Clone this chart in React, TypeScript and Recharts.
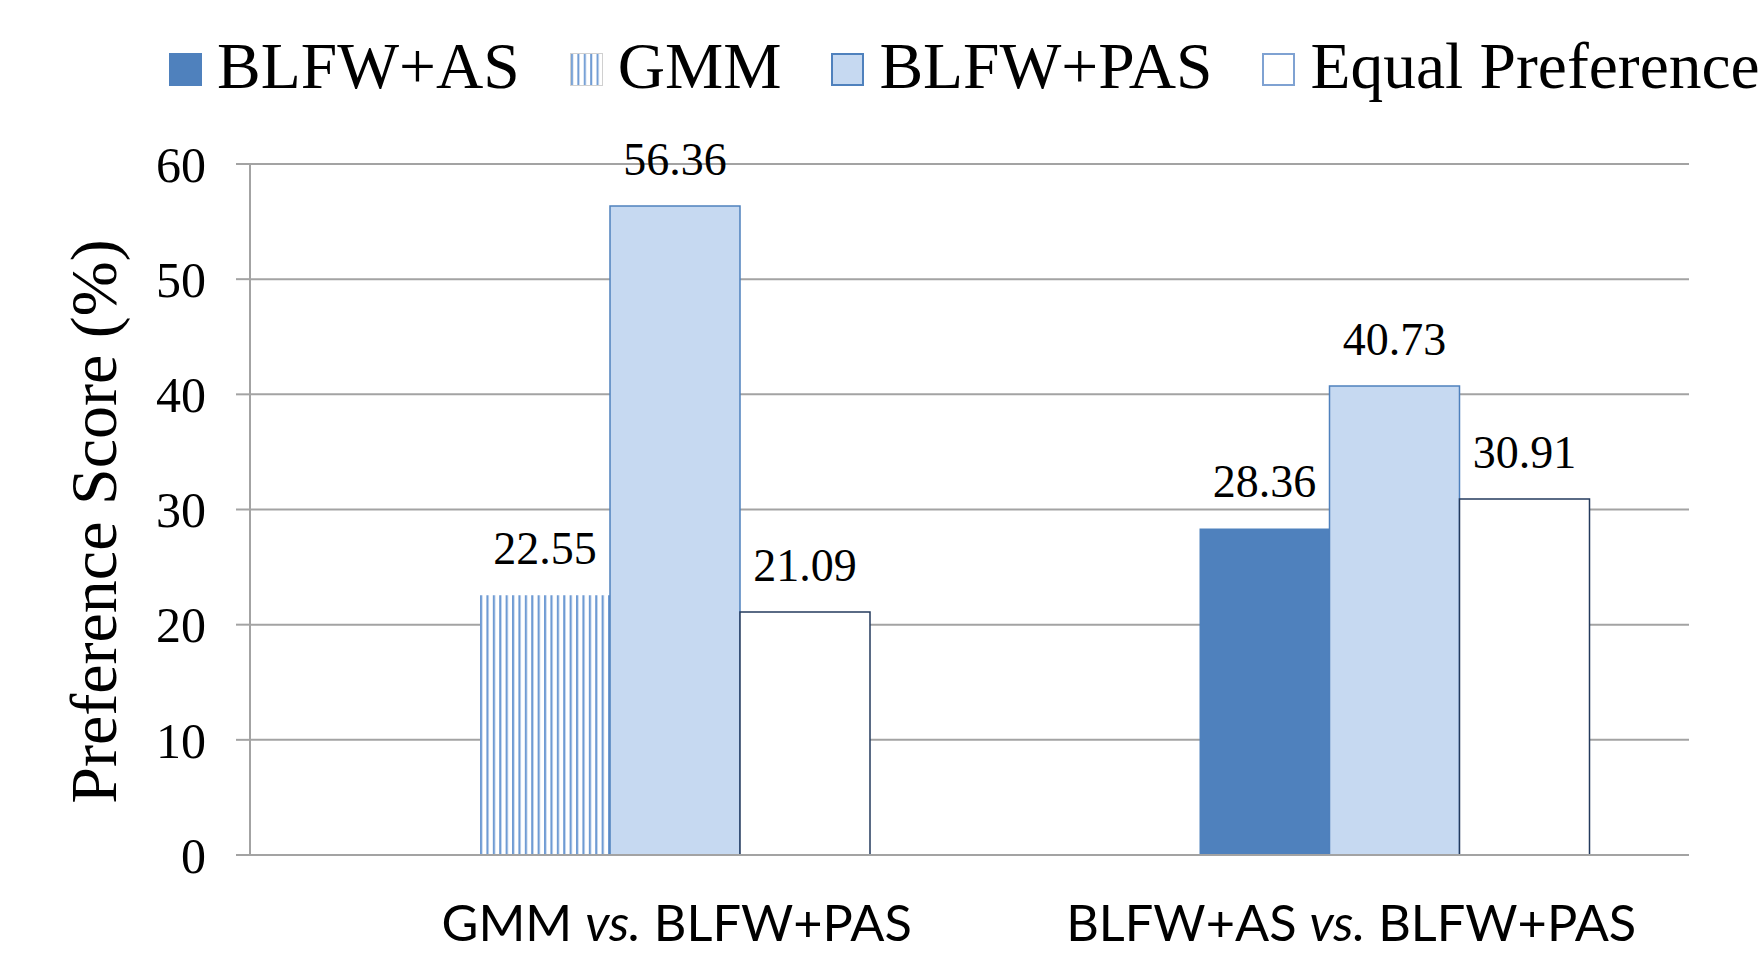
import React from 'react';
import { BarChart, Bar, XAxis, YAxis, CartesianGrid, Cell, LabelList } from 'recharts';

const categories = ['GMM vs. BLFW+PAS', 'BLFW+AS vs. BLFW+PAS'];
const blfwAs: (number | null)[] = [null, 28.36];
const gmm: (number | null)[] = [22.55, null];
const blfwPas = [56.36, 40.73];
const equalPref = [21.09, 30.91];
const yTicks = [0, 10, 20, 30, 40, 50, 60];
const legendLabels = ['BLFW+AS', 'GMM', 'BLFW+PAS', 'Equal Preference'];
const yLabel = 'Preference Score (%)';

const data = categories.map((c, i) => ({
  category: c,
  spacer: null as number | null,
  first: gmm[i] != null ? gmm[i] : blfwAs[i],
  firstIsGmm: gmm[i] != null,
  pas: blfwPas[i],
  equal: equalPref[i],
}));

const SERIF = '"Liberation Serif", "Times New Roman", serif';
const SANS = 'Lato, "Open Sans", sans-serif';
const GRID = '#A3A3A3';
const AS_FILL = '#4F81BD';
const PAS_FILL = '#C6D9F1';
const PAS_STROKE = '#4F81BD';
const EQ_STROKE = '#243B5E';
const STRIPE = '#6F9BD3';

const tickShift = [67, 22];

const CategoryTick = (props: any) => {
  const { x, y, payload, index } = props;
  const parts = String(payload.value).split(' vs. ');
  return (
    <text x={x + (tickShift[index] || 0)} y={y + 86} textAnchor="middle" fontFamily={SANS} fontSize={50.5} fill="#000">
      <tspan>{parts[0] + ' '}</tspan>
      <tspan fontStyle="italic">vs.</tspan>
      <tspan>{' ' + parts[1]}</tspan>
    </text>
  );
};

const valueLabel = (props: any) => {
  const { x, y, width, value } = props;
  if (value == null) return null;
  return (
    <text x={Number(x) + Number(width) / 2} y={Number(y) - 31} textAnchor="middle" fontFamily={SERIF} fontSize={46} fill="#000">
      {Number(value).toFixed(2)}
    </text>
  );
};

const YLabel = (props: any) => {
  const vb = props.viewBox || {};
  const cy = vb.y + vb.height / 2 + 12;
  const bx = vb.x + 116;
  return (
    <text x={bx} y={cy} transform={`rotate(-90, ${bx}, ${cy})`} textAnchor="middle" fontFamily={SERIF} fontSize={66} fill="#000">
      {yLabel}
    </text>
  );
};

const Swatch = ({ kind }: { kind: number }) => {
  const st: React.CSSProperties = { display: 'block' };
  if (kind === 0) return <svg style={st} width={33} height={33}><rect x={0} y={0} width={33} height={33} fill={AS_FILL} /></svg>;
  if (kind === 1)
    return (
      <svg style={st} width={33} height={33}>
        <defs>
          <pattern id="legStripes" patternUnits="userSpaceOnUse" width={6.4} height={10}>
            <rect x={0} y={0} width={6.4} height={10} fill="#fff" />
            <rect x={1} y={0} width={2} height={10} fill={STRIPE} />
          </pattern>
        </defs>
        <rect x={0.5} y={0.5} width={32} height={32} fill="url(#legStripes)" stroke="#D0D0D0" strokeWidth={1} />
      </svg>
    );
  if (kind === 2)
    return <svg style={st} width={33} height={33}><rect x={1} y={1} width={31} height={31} fill={PAS_FILL} stroke={PAS_STROKE} strokeWidth={2} /></svg>;
  return <svg style={st} width={33} height={33}><rect x={1} y={1} width={31} height={31} fill="#fff" stroke="#7FA2D2" strokeWidth={2} /></svg>;
};

export default function App() {
  return (
    <div style={{ position: 'absolute', left: 0, top: 0, width: 1762, height: 953, background: '#fff', overflow: 'hidden' }}>
      <div
        style={{
          position: 'absolute',
          left: 169,
          top: 33,
          display: 'flex',
          alignItems: 'center',
          fontFamily: SERIF,
          fontSize: 65.5,
          lineHeight: '66px',
          whiteSpace: 'nowrap',
          color: '#000',
        }}
      >
        {legendLabels.map((l, i) => (
          <div key={l} style={{ display: 'flex', alignItems: 'center', marginRight: i < legendLabels.length - 1 ? 50 : 0 }}>
            <div style={{ position: 'relative', top: 3, width: 33, height: 33, marginRight: 15, lineHeight: 0 }}>
              <Swatch kind={i} />
            </div>
            <span>{l}</span>
          </div>
        ))}
      </div>
      <BarChart
        width={1762}
        height={953}
        data={data}
        margin={{ top: 164, right: 73, bottom: 0, left: 0 }}
        barGap={0}
        barSize={130}
        style={{ position: 'absolute', left: 0, top: 0 }}
      >
        <defs>
          <pattern id="gmmStripes" patternUnits="userSpaceOnUse" width={6.4} height={10}>
            <rect x={0} y={0} width={6.4} height={10} fill="#fff" />
            <rect x={0} y={0} width={2.2} height={10} fill={STRIPE} />
          </pattern>
        </defs>
        <CartesianGrid vertical={false} stroke={GRID} strokeWidth={2} />
        <XAxis
          dataKey="category"
          height={98}
          tickLine={false}
          tickSize={0}
          tickMargin={0}
          axisLine={{ stroke: GRID, strokeWidth: 2 }}
          tick={<CategoryTick />}
          interval={0}
        />
        <YAxis
          width={250}
          domain={[0, 60]}
          ticks={yTicks}
          interval={0}
          tickSize={14}
          tickMargin={30}
          axisLine={{ stroke: GRID, strokeWidth: 2 }}
          tickLine={{ stroke: GRID, strokeWidth: 2 }}
          tick={{ fontFamily: SERIF, fontSize: 50, fill: '#000' }}
          label={<YLabel />}
        />
        <Bar dataKey="spacer" isAnimationActive={false} fill="none" legendType="none" />
        <Bar dataKey="first" isAnimationActive={false}>
          {data.map((d, i) => (
            <Cell key={i} fill={d.firstIsGmm ? 'url(#gmmStripes)' : AS_FILL} stroke="none" />
          ))}
          <LabelList dataKey="first" content={valueLabel} />
        </Bar>
        <Bar dataKey="pas" isAnimationActive={false} fill={PAS_FILL} stroke={PAS_STROKE} strokeWidth={1.5}>
          <LabelList dataKey="pas" content={valueLabel} />
        </Bar>
        <Bar dataKey="equal" isAnimationActive={false} fill="#fff" stroke={EQ_STROKE} strokeWidth={1.5}>
          <LabelList dataKey="equal" content={valueLabel} />
        </Bar>
      </BarChart>
    </div>
  );
}
